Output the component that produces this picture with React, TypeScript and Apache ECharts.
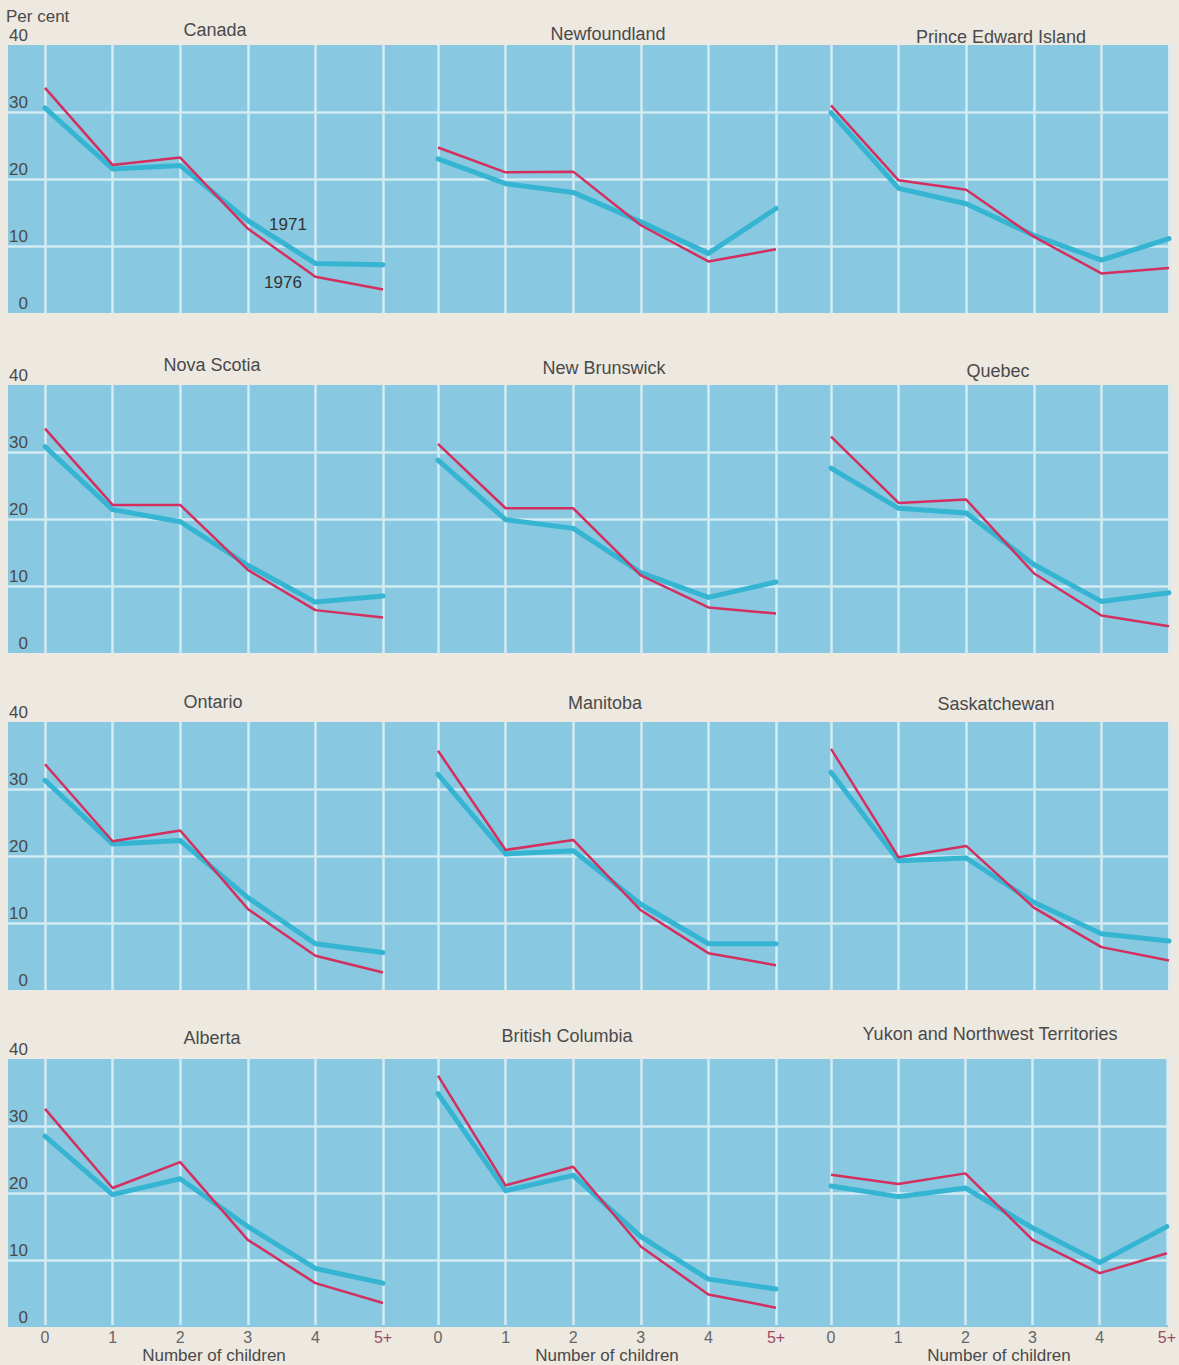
import React, { useEffect, useRef } from 'react';
import * as echarts from 'echarts';

const categories = ['0', '1', '2', '3', '4', '5+'];
const seriesYears = ['1971', '1976'];
const regionNames = [
  'Canada', 'Newfoundland', 'Prince Edward Island',
  'Nova Scotia', 'New Brunswick', 'Quebec',
  'Ontario', 'Manitoba', 'Saskatchewan',
  'Alberta', 'British Columbia', 'Yukon and Northwest Territories',
];

const canada1971 = [30.6, 21.5, 22.0, 13.8, 7.4, 7.2];
const canada1976 = [33.6, 22.1, 23.2, 12.6, 5.4, 3.5];
const newfoundland1971 = [23.0, 19.3, 18.0, 13.6, 8.9, 15.6];
const newfoundland1976 = [24.7, 21.0, 21.1, 13.1, 7.7, 9.5];
const pei1971 = [29.9, 18.6, 16.3, 11.6, 7.9, 11.1];
const pei1976 = [31.0, 19.8, 18.4, 11.4, 5.9, 6.7];
const novaScotia1971 = [30.8, 21.4, 19.6, 13.1, 7.6, 8.5];
const novaScotia1976 = [33.5, 22.1, 22.1, 12.4, 6.4, 5.3];
const newBrunswick1971 = [28.8, 19.9, 18.6, 12.0, 8.3, 10.6];
const newBrunswick1976 = [31.2, 21.6, 21.6, 11.6, 6.8, 5.9];
const quebec1971 = [27.6, 21.6, 20.9, 13.2, 7.7, 9.0];
const quebec1976 = [32.3, 22.4, 22.9, 11.9, 5.6, 4.0];
const ontario1971 = [31.3, 21.8, 22.3, 13.8, 6.9, 5.6];
const ontario1976 = [33.7, 22.2, 23.8, 12.1, 5.1, 2.6];
const manitoba1971 = [32.2, 20.3, 20.8, 12.8, 6.9, 6.9];
const manitoba1976 = [35.7, 20.9, 22.4, 11.9, 5.5, 3.7];
const saskatchewan1971 = [32.5, 19.3, 19.7, 13.1, 8.4, 7.3];
const saskatchewan1976 = [36.0, 19.8, 21.5, 12.3, 6.4, 4.4];
const alberta1971 = [28.4, 19.6, 22.0, 14.8, 8.5, 6.3];
const alberta1976 = [32.5, 20.6, 24.5, 12.8, 6.3, 3.3];
const bc1971 = [34.8, 20.2, 22.5, 13.3, 6.9, 5.4];
const bc1976 = [37.5, 21.0, 23.8, 11.8, 4.6, 2.6];
const yukon1971 = [20.9, 19.3, 20.6, 14.6, 9.4, 14.8];
const yukon1976 = [22.6, 21.2, 22.8, 12.8, 7.8, 10.8];

const values1971 = [
  canada1971, newfoundland1971, pei1971,
  novaScotia1971, newBrunswick1971, quebec1971,
  ontario1971, manitoba1971, saskatchewan1971,
  alberta1971, bc1971, yukon1971,
];
const values1976 = [
  canada1976, newfoundland1976, pei1976,
  novaScotia1976, newBrunswick1976, quebec1976,
  ontario1976, manitoba1976, saskatchewan1976,
  alberta1976, bc1976, yukon1976,
];

// layout
const ROW_TOPS = [45, 385, 722, 1059];
const ROW_H = 268;
const COL_LEFT = [45, 438, 831];
const COL_W = 338;
const TITLE_POS = [
  [215, 30], [608, 34], [1001, 37],
  [212, 365], [604, 368], [998, 371],
  [213, 702], [605, 703], [996, 704],
  [212, 1038], [567, 1036], [990, 1034],
];

const BG = '#ede8e0';
const BAND = '#88c8e0';
const GRIDLINE = '#d3ebf3';
const C1971 = '#36b5d3';
const C1976 = '#d32f5f';
const FONT = '"Liberation Sans", Arial, sans-serif';
const TEXT = '#4a4a4a';

export default function App() {
  const ref = useRef<HTMLDivElement>(null);

  useEffect(() => {
    if (!ref.current) return;
    const chart = echarts.init(ref.current, undefined, { renderer: 'svg' });

    const grid: any[] = [];
    const xAxis: any[] = [];
    const yAxis: any[] = [];
    const series: any[] = [];

    // background bands (one per row) with horizontal gridlines and y labels
    ROW_TOPS.forEach((top, r) => {
      grid.push({
        left: 8, top, width: 1160, height: ROW_H,
        show: true, backgroundColor: BAND, borderWidth: 0, z: -1,
      });
      xAxis.push({ gridIndex: r, type: 'value', show: false, min: 0, max: 1 });
      yAxis.push({
        gridIndex: r, type: 'value', min: 0, max: 40, interval: 10,
        axisLine: { show: false }, axisTick: { show: false },
        axisLabel: {
          inside: true, align: 'right', verticalAlign: 'bottom', margin: 20,
          padding: [0, 0, 1, 0],
          fontSize: 17, fontFamily: FONT, color: TEXT,
        },
        splitLine: { show: true, showMinLine: false, showMaxLine: false, lineStyle: { color: GRIDLINE, width: 2.5 } },
      });
    });

    // panels
    regionNames.forEach((name, p) => {
      const r = Math.floor(p / 3);
      const c = p % 3;
      const gi = 4 + p;
      const bottomRow = r === 3;
      grid.push({ left: COL_LEFT[c], top: ROW_TOPS[r], width: COL_W, height: ROW_H });
      xAxis.push({
        gridIndex: gi, type: 'category', data: categories, boundaryGap: false,
        axisLine: { show: false }, axisTick: { show: false },
        axisLabel: {
          show: bottomRow, margin: 4, fontSize: 16, fontFamily: FONT,
          color: (v: string) => (v === '5+' ? '#9a4c66' : '#666'),
        },
        splitLine: { show: true, lineStyle: { color: GRIDLINE, width: 2.5 } },
        name: bottomRow ? 'Number of children' : '',
        nameLocation: 'middle', nameGap: 22,
        nameTextStyle: { fontSize: 17, fontFamily: FONT, color: TEXT },
      });
      yAxis.push({ gridIndex: gi, type: 'value', min: 0, max: 40, show: false });
      series.push({
        name: `${name} ${seriesYears[0]}`, type: 'line', xAxisIndex: gi, yAxisIndex: gi,
        data: values1971[p], symbol: 'none', silent: true,
        lineStyle: { color: C1971, width: 5, cap: 'round', join: 'round' }, z: 2,
      });
      series.push({
        name: `${name} ${seriesYears[1]}`, type: 'line', xAxisIndex: gi, yAxisIndex: gi,
        data: values1976[p], symbol: 'none', silent: true,
        lineStyle: { color: C1976, width: 2.5, join: 'round' }, z: 3,
      });
    });

    const graphic: any[] = regionNames.map((name, p) => ({
      type: 'text', x: TITLE_POS[p][0], y: TITLE_POS[p][1],
      style: { text: name, align: 'center', verticalAlign: 'middle', fontSize: 18, fontFamily: FONT, fill: TEXT },
    }));
    graphic.push({
      type: 'text', x: 6, y: 16,
      style: { text: 'Per cent', align: 'left', verticalAlign: 'middle', fontSize: 17, fontFamily: FONT, fill: TEXT },
    });
    graphic.push({
      type: 'text', x: 288, y: 224, z: 10,
      style: { text: seriesYears[0], align: 'center', verticalAlign: 'middle', fontSize: 17, fontFamily: FONT, fill: '#333' },
    });
    graphic.push({
      type: 'text', x: 283, y: 282, z: 10,
      style: { text: seriesYears[1], align: 'center', verticalAlign: 'middle', fontSize: 17, fontFamily: FONT, fill: '#333' },
    });

    chart.setOption({
      animation: false,
      backgroundColor: BG,
      grid, xAxis, yAxis, series, graphic,
    });

    return () => chart.dispose();
  }, []);

  return (
    <div
      ref={ref}
      style={{ position: 'absolute', left: 0, top: 0, width: 1179, height: 1365 }}
    />
  );
}
